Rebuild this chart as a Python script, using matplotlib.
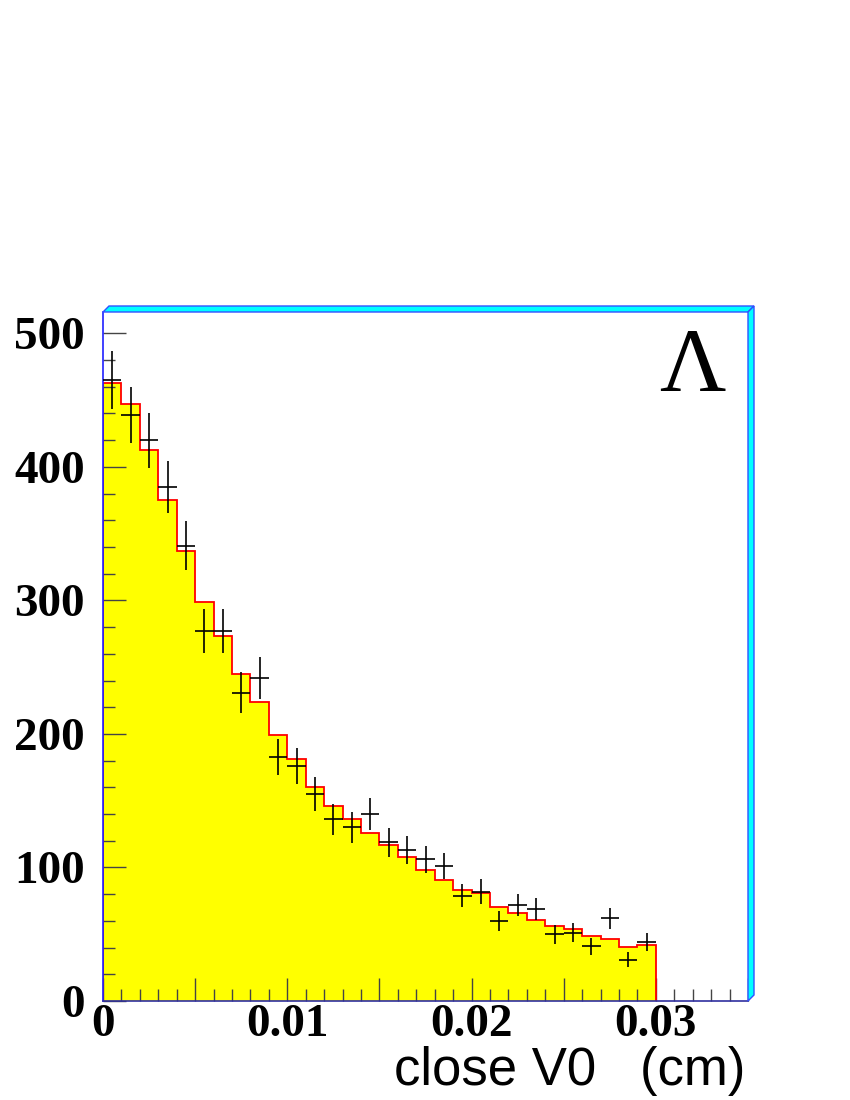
import numpy as np
import matplotlib
matplotlib.use("Agg")
import matplotlib.pyplot as plt
from matplotlib.patches import Polygon
from matplotlib.ticker import MultipleLocator, FuncFormatter

# histogram (MC), 30 bins of 0.001 cm from 0 to 0.03
bin_lo = 0.0
bin_hi = 0.03
n_bins = 30
mc_counts = [463, 447, 413, 375, 337, 299, 273, 245, 224, 199,
             181, 160, 146, 136, 126, 116.5, 107.5, 98, 90.6, 82.8,
             80.6, 70.4, 65.6, 60.6, 55.9, 53.9, 48.9, 46.6, 40.6, 41.6]

# data points with errors
data_counts = [465, 439, 420, 385, 341, 277, 277, 231, 242, 183,
               176, 155, 136, 130, 140, 119, 113, 106, 101, 79,
               82, 60, 72, 69, 50, 51, 41, 62, 31, 44]
data_err = [21.6, 21.0, 20.5, 19.6, 18.5, 16.6, 16.6, 15.2, 15.6, 13.5,
            13.3, 12.4, 11.7, 11.4, 11.8, 10.9, 10.6, 10.3, 10.0, 8.9,
            9.0, 7.7, 8.5, 8.3, 7.1, 7.1, 6.4, 7.9, 5.6, 6.6]

W, H = 850, 1100
fig = plt.figure(figsize=(8.5, 11), dpi=100)
L, R, T, B = 103, 748, 312, 1001
ax = fig.add_axes([L / W, (H - B) / H, (R - L) / W, (B - T) / H])

edges = np.linspace(bin_lo, bin_hi, n_bins + 1)
centers = 0.5 * (edges[:-1] + edges[1:])
half = 0.5 * (edges[1] - edges[0])

ax.stairs(mc_counts, edges, fill=True, color='#ffff00', zorder=1)
ax.stairs(mc_counts, edges, color='#ff0000', lw=1.3, zorder=2)
ax.errorbar(centers, data_counts, yerr=data_err, xerr=half, fmt='none',
            ecolor='black', elinewidth=1.2, capsize=0, zorder=3)

ax.set_xlim(0, 0.035)
ax.set_ylim(0, 516)

for s in ['top', 'right']:
    ax.spines[s].set_visible(False)
ax.spines['left'].set_color('#2020ff')
ax.spines['bottom'].set_color('#3030a0')
ax.spines['left'].set_linewidth(1.2)
ax.spines['bottom'].set_linewidth(1.2)

ax.xaxis.set_major_locator(MultipleLocator(0.005))
ax.xaxis.set_minor_locator(MultipleLocator(0.001))
ax.yaxis.set_major_locator(MultipleLocator(100))
ax.yaxis.set_minor_locator(MultipleLocator(20))


def xfmt(v, pos):
    k = int(round(v / 0.005))
    if k % 2:
        return ''
    if k == 0:
        return '0'
    return '%.2f' % v


ax.xaxis.set_major_formatter(FuncFormatter(xfmt))
ax.yaxis.set_major_formatter(FuncFormatter(lambda v, p: '%d' % v))

ax.tick_params(which='major', direction='in', length=16.5, width=1.0,
               color='#444444', labelsize=34)
ax.tick_params(which='minor', direction='in', length=8.5, width=1.0,
               color='#444444')
ax.tick_params(axis='y', which='major', pad=13)
ax.tick_params(axis='x', which='major', pad=2)
ax.tick_params(top=False, right=False, which='both')
for lab in ax.get_xticklabels() + ax.get_yticklabels():
    lab.set_family('Liberation Serif')
    lab.set_fontweight('bold')

# 3D frame borders (cyan)
d = 6
top_band = [(L / W, (H - T) / H), (R / W, (H - T) / H),
            ((R + d) / W, (H - T + d) / H), ((L + d) / W, (H - T + d) / H)]
right_band = [(R / W, (H - T) / H), (R / W, (H - B) / H),
              ((R + d) / W, (H - B + d) / H), ((R + d) / W, (H - T + d) / H)]
for pts in (top_band, right_band):
    fig.patches.append(Polygon(pts, closed=True, facecolor='#00ffff',
                               edgecolor='#3050ff', lw=1.0,
                               transform=fig.transFigure))

fig.text(692 / W, (H - 391) / H, 'Λ', ha='center', va='baseline',
         fontsize=66, family='Liberation Serif')
fig.text(745 / W, (H - 1085) / H, 'close V0   (cm)', ha='right',
         va='baseline', fontsize=38, family='Liberation Sans')

fig.savefig('out.png', dpi=100)
